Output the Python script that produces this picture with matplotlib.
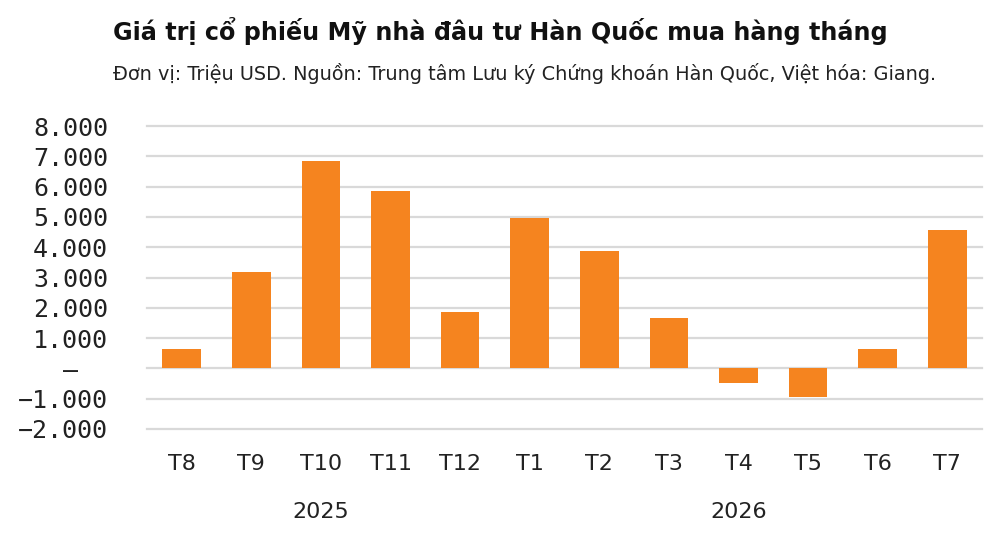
import matplotlib
matplotlib.use("Agg")
import matplotlib.pyplot as plt
import numpy as np

months = ["T8", "T9", "T10", "T11", "T12", "T1", "T2", "T3", "T4", "T5", "T6", "T7"]
values = [630, 3170, 6850, 5850, 1860, 4970, 3880, 1670, -480, -950, 630, 4580]
years = ["2025", "2026"]
year_spans = [(0, 4), (5, 11)]
yticks = [-2000, -1000, 0, 1000, 2000, 3000, 4000, 5000, 6000, 7000, 8000]
ytick_labels = ["−2.000", "−1.000", "–  ", "1.000", "2.000", "3.000", "4.000",
                "5.000", "6.000", "7.000", "8.000"]

title = "Giá trị cổ phiếu Mỹ nhà đâu tư Hàn Quốc mua hàng tháng"
subtitle = "Đơn vị: Triệu USD. Nguồn: Trung tâm Lưu ký Chứng khoán Hàn Quốc, Việt hóa: Giang."

W, H = 1000, 539
fig = plt.figure(figsize=(W / 100, H / 100), dpi=100)
left, right, top, bottom = 147, 982, 126, 429
ax = fig.add_axes([left / W, 1 - bottom / H, (right - left) / W, (bottom - top) / H])

orange = "#F5841F"
x = np.arange(len(months))
ax.bar(x, values, width=0.556, color=orange, zorder=3)
ax.set_xlim(-0.5, len(months) - 0.5)
ax.set_ylim(-2000, 8000)
ax.set_yticks(yticks)
ax.set_yticklabels(ytick_labels, fontfamily="DejaVu Sans Mono", fontsize=18, color="#222222")
ax.yaxis.grid(True, color="#D9D9D9", linewidth=1.6, zorder=0)
for gl in ax.get_ygridlines():
    gl.set_clip_on(False)
ax.tick_params(axis="y", length=0, pad=28)
ax.set_xticks(x)
ax.set_xticklabels(months, fontsize=16, color="#222222")
ax.tick_params(axis="x", length=0, pad=18)
for s in ax.spines.values():
    s.set_visible(False)

for yr, (a, b) in zip(years, year_spans):
    xc = (a + b) / 2
    ax.annotate(yr, xy=(xc, 0), xycoords=("data", "figure fraction"),
                xytext=(0, (H - 512) * 0.72), textcoords="offset points",
                ha="center", va="center", fontsize=16, color="#222222")

fig.text(113 / W, 1 - 31 / H, title, fontsize=17.2, fontweight="bold",
         ha="left", va="center", color="#111111")
fig.text(113 / W, 1 - 73 / H, subtitle, fontsize=13.9,
         ha="left", va="center", color="#222222")

fig.savefig("out.png", dpi=100)
